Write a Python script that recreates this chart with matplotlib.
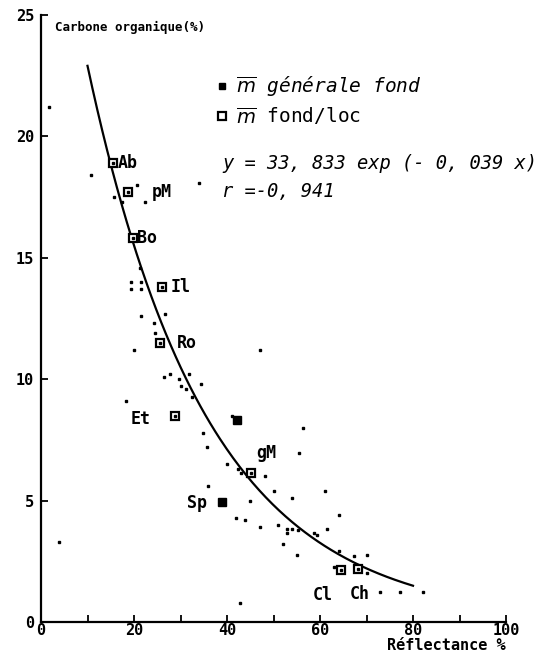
import matplotlib
matplotlib.use("Agg")
import matplotlib.pyplot as plt
import numpy as np

plt.rcParams["font.family"] = ["DejaVu Sans Mono", "DejaVu Sans"]

# fitted model shown on the chart
a_coef = 33.833
b_coef = 0.039
r_coef = -0.941
fit_x_range = [10, 80]

# individual samples (reflectance %, organic carbon %)
dots_x = [1.8, 10.8, 15.8, 17.5, 20.6, 22.4, 33.9, 21.2, 19.4, 19.4, 21.6, 21.6,
          21.5, 26.7, 24.2, 24.6, 20.0, 47.0, 26.5, 27.7, 29.7, 31.8, 30.0, 31.1,
          34.5, 32.5, 18.2, 41.0, 34.9, 35.8, 56.4, 55.5, 40.1, 42.4, 43.1, 48.1,
          35.9, 50.1, 54.0, 61.1, 45.0, 64.0, 42.0, 43.9, 47.0, 50.9, 52.9, 53.9,
          52.9, 55.2, 58.8, 59.3, 61.5, 52.1, 55.0, 64.0, 67.3, 70.2, 63.0, 70.0,
          73.0, 77.1, 82.1, 42.7, 3.8]
dots_y = [21.2, 18.4, 17.5, 17.3, 18.0, 17.3, 18.1, 14.6, 14.0, 13.7, 14.0, 13.7,
          12.6, 12.7, 12.3, 11.9, 11.2, 11.2, 10.1, 10.2, 10.0, 10.2, 9.7, 9.6,
          9.8, 9.25, 9.1, 8.5, 7.8, 7.2, 8.0, 6.95, 6.5, 6.3, 6.15, 6.03,
          5.6, 5.4, 5.1, 5.4, 5.0, 4.4, 4.3, 4.2, 3.9, 4.0, 3.84, 3.84,
          3.65, 3.78, 3.65, 3.6, 3.84, 3.22, 2.75, 2.92, 2.72, 2.75, 2.25, 2.0,
          1.25, 1.25, 1.25, 0.8, 3.3]

# lake means (fond/lac)
lakes = ["Ab", "pM", "Bo", "Il", "Ro", "Et", "Sp", "gM", "Cl", "Ch"]
lake_x = [15.4, 18.8, 19.7, 26.0, 25.6, 28.8, 38.9, 45.2, 64.6, 68.2]
lake_y = [18.9, 17.7, 15.8, 13.8, 11.5, 8.5, 4.95, 6.15, 2.14, 2.17]
lake_filled = ["Sp"]

# general mean
gen_x = [42.2]
gen_y = [8.3]

# label offsets in pixels (dx, dy, ha)
label_off = {"Ab": (5, 0, "left"), "pM": (23, 0, "left"), "Bo": (4, 0, "left"),
             "Il": (9, 0, "left"), "Ro": (17, 0, "left"), "Et": (-24, -3, "right"),
             "Sp": (-15, -1, "right"), "gM": (5, 20, "left"), "Cl": (-19, -25, "center"),
             "Ch": (2, -25, "center")}

fig = plt.figure(figsize=(5.42, 6.54), dpi=100)
ax = fig.add_axes([41 / 542, 1 - 622 / 654, 465 / 542, 607 / 654])

ax.set_xlim(0, 100)
ax.set_ylim(0, 25)

xx = np.linspace(fit_x_range[0], fit_x_range[1], 200)
ax.plot(xx, a_coef * np.exp(-b_coef * xx), color="black", lw=1.6)

ax.plot(dots_x, dots_y, "s", color="black", ms=1.6, ls="none")

for name, x, y in zip(lakes, lake_x, lake_y):
    if name in lake_filled:
        ax.plot(x, y, "s", color="black", ms=6)
    else:
        ax.plot(x, y, "s", mfc="white", mec="black", mew=1.6, ms=6)
        ax.plot(x, y, "s", color="black", ms=1.5)
    dx, dy, ha = label_off[name]
    ax.annotate(name, (x, y), xytext=(dx, dy), textcoords="offset pixels",
                ha=ha, va="center", fontsize=12, fontweight="bold")

ax.plot(gen_x, gen_y, "s", color="black", ms=5.5)

# legend
h_gen, = ax.plot([], [], "s", color="black", ms=5)
h_lac, = ax.plot([], [], "s", mfc="white", mec="black", mew=1.6, ms=5.5)
leg = ax.legend([h_gen, h_lac], [r"$\overline{m}$ générale fond", r"$\overline{m}$ fond/loc"],
                loc="upper left", bbox_to_anchor=(0.378, 0.902), frameon=False,
                fontsize=14, handlelength=0.5, handletextpad=0.5, labelspacing=0.35,
                borderpad=0, borderaxespad=0)
leg.get_texts()[0].set_style("italic")

ax.text(39.0, 18.9, "y = %s exp (- %s x)" % (str(a_coef).replace(".", ", "), str(b_coef).replace(".", ", ")),
        fontsize=13.5, style="italic", va="center", ha="left")
ax.text(39.0, 17.75, "r =%s" % str(r_coef).replace(".", ", "),
        fontsize=13.5, style="italic", va="center", ha="left")

ax.text(3, 24.5, "Carbone organique(%)", fontsize=9, fontweight="bold", va="center")
ax.text(1.0, -0.027, "Réflectance %", transform=ax.transAxes, ha="right", va="top",
        fontsize=11, fontweight="bold")

ax.spines["top"].set_visible(False)
ax.spines["right"].set_visible(False)
ax.spines["left"].set_linewidth(1.6)
ax.spines["bottom"].set_linewidth(1.6)
ax.set_xticks([0, 20, 40, 60, 80, 100])
ax.set_xticks([10, 30, 50, 70, 90], minor=True)
ax.set_yticks([0, 5, 10, 15, 20, 25])
ax.tick_params(direction="in", length=5, width=1.3, labelsize=11)
ax.tick_params(axis="x", pad=1)
ax.tick_params(axis="y", pad=5)
ax.tick_params(which="minor", direction="in", length=5, width=1.3)
for lab in ax.get_xticklabels() + ax.get_yticklabels():
    lab.set_fontweight("bold")

fig.savefig("out.png", dpi=100)
